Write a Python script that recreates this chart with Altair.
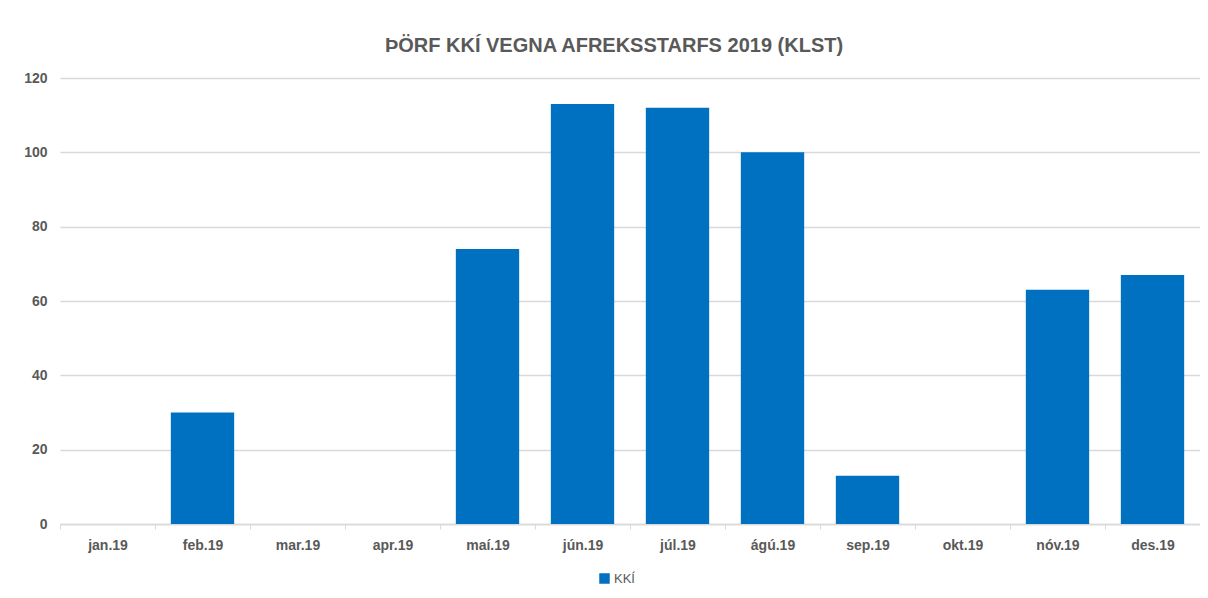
import altair as alt
import pandas as pd

months = ["jan.19", "feb.19", "mar.19", "apr.19", "maí.19", "jún.19",
          "júl.19", "ágú.19", "sep.19", "okt.19", "nóv.19", "des.19"]
values = [0, 30, 0, 0, 74, 113, 112, 100, 13, 0, 63, 67]
series = ["KKÍ"] * len(months)

df = pd.DataFrame({"month": months, "value": values, "series": series})

GREY = "#595959"
LINE = "#d9d9d9"
FONT = "Liberation Sans"

chart = alt.Chart(df).mark_bar(color="#0070C0").encode(
    x=alt.X("month:N", sort=months, title=None,
            scale=alt.Scale(paddingInner=0.3333, paddingOuter=0.1667),
            axis=alt.Axis(labelAngle=0, bandPosition=0, tickOffset=-15.8, labelOffset=15.8,
                          ticks=True, tickSize=5,
                          tickColor=LINE, domainColor=LINE, domainWidth=1.5,
                          labelPadding=9, labelFontSize=14, labelFontWeight="bold",
                          labelColor=GREY, labelFont=FONT, grid=False)),
    y=alt.Y("value:Q", title=None,
            scale=alt.Scale(domain=[0, 120]),
            axis=alt.Axis(values=[0, 20, 40, 60, 80, 100, 120], domain=False, ticks=False,
                          labelPadding=13, labelFontSize=14, labelFontWeight="bold",
                          labelColor=GREY, labelFont=FONT, gridColor=LINE, gridWidth=1.3)),
    color=alt.Color("series:N", title=None,
                    scale=alt.Scale(range=["#0070C0"]),
                    legend=alt.Legend(orient="none", legendX=538, legendY=494,
                                      symbolType="square", symbolSize=110,
                                      symbolStrokeWidth=0,
                                      labelFontSize=13, labelColor=GREY, labelFont=FONT,
                                      labelOffset=3)),
).properties(
    width=1140,
    height=446,
    padding={"left": 52, "top": 70, "right": 0, "bottom": 60},
    autosize=alt.AutoSizeParams(type="none"),
    title=alt.TitleParams("ÞÖRF KKÍ VEGNA AFREKSSTARFS 2019 (KLST)",
                          anchor="middle", frame="group", dx=-16, offset=15,
                          fontSize=20, font=FONT, fontWeight="bold", color=GREY),
).configure_view(stroke=None)

chart.save("out.html", embed_options={"renderer": "svg", "actions": False})
